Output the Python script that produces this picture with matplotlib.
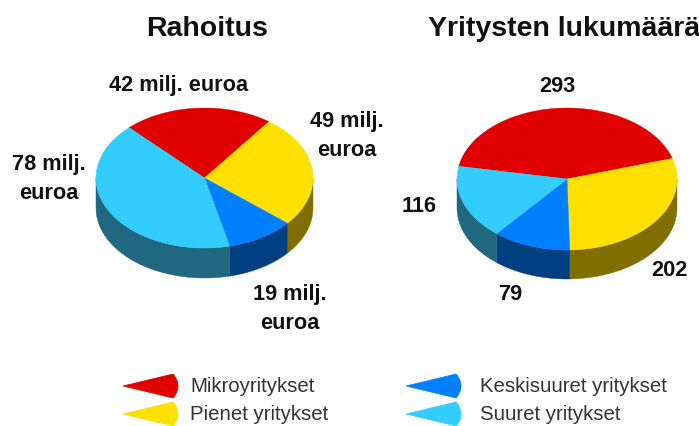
import numpy as np
import matplotlib
matplotlib.use("Agg")
import matplotlib.pyplot as plt

plt.rcParams['font.family'] = ['Liberation Sans', 'DejaVu Sans']

# Data
categories = ["Mikroyritykset", "Pienet yritykset", "Keskisuuret yritykset", "Suuret yritykset"]
funding = [42, 49, 19, 78]
companies = [293, 202, 79, 116]
funding_labels = ["42 milj. euroa", "49 milj.\neuroa", "19 milj.\neuroa", "78 milj.\neuroa"]
company_labels = ["293", "202", "79", "116"]
titles = ["Rahoitus", "Yritysten lukumäärä"]

top_colors = ["#E00000", "#FFE000", "#0080FF", "#33CCFF"]
side_colors = ["#700000", "#806F00", "#004080", "#1F6880"]

W, H = 699, 426
fig = plt.figure(figsize=(W / 100, H / 100), dpi=100, facecolor="white")
ax = fig.add_axes([0, 0, 1, 1])
ax.set_xlim(0, W)
ax.set_ylim(H, 0)
ax.axis("off")


def pie3d(values, start_deg, cx, cy, rx, ry, depth):
    vals = np.asarray(values, dtype=float)
    sweeps = vals / vals.sum() * 360
    a0 = start_deg
    spans = []
    for s in sweeps:
        spans.append((a0, a0 - s))
        a0 -= s
    # side walls: only the front half (angles between 180 and 360)
    for (a, b), col in zip(spans, side_colors):
        for k in (-1, 0, 1):
            lo = max(min(a, b) + 360 * k, 180)
            hi = min(max(a, b) + 360 * k, 360)
            if hi <= lo:
                continue
            t = np.radians(np.linspace(lo, hi, 80))
            x = cx + rx * np.cos(t)
            y = cy - ry * np.sin(t)
            ax.fill(np.r_[x, x[::-1]], np.r_[y, y[::-1] + depth],
                    color=col, lw=0.3, zorder=2)
    # top faces
    for (a, b), col in zip(spans, top_colors):
        t = np.radians(np.linspace(a, b, 160))
        x = np.r_[cx, cx + rx * np.cos(t)]
        y = np.r_[cy, cy - ry * np.sin(t)]
        ax.fill(x, y, color=col, lw=0.3, zorder=3)


pie3d(funding, 134, 204.5, 178, 108.5, 70, 30)
pie3d(companies, 169.7, 567, 179, 110, 71, 29)

bold = dict(fontweight="bold", color="#111111", ha="center", va="center")
ax.text(207, 29.5, titles[0], fontsize=20.5, **bold)
ax.text(564, 29.5, titles[1], fontsize=20.5, **bold)

lab = dict(fontsize=15.7, linespacing=1.52, **bold)
ax.text(179, 85, funding_labels[0], **lab)
ax.text(347, 136, funding_labels[1], **lab)
ax.text(290, 309, funding_labels[2], **lab)
ax.text(49, 179, funding_labels[3], **lab)
ax.text(557, 87, company_labels[0], **lab)
ax.text(669, 271, company_labels[1], **lab)
ax.text(510, 295, company_labels[2], **lab)
ax.text(419, 206, company_labels[3], **lab)


def legend_mark(x_tip, yc, color):
    s = np.linspace(-1, 1, 40)
    length, half = 55, 12
    x = x_tip + length * (1 - 0.09 * s ** 2)
    y = yc + half * s
    ax.fill(np.r_[x_tip, x], np.r_[yc, y], color=color, lw=0.5, zorder=3)


positions = [(123, 386, 190), (123, 414, 190), (406, 386, 480), (406, 414, 480)]
for (xt, yc, xl), c, name in zip(positions, top_colors, categories):
    legend_mark(xt, yc, c)
    ax.text(xl, yc + 1, name, fontsize=14.7, color="#333333", ha="left", va="center")

fig.savefig("out.png", dpi=100, facecolor="white")
